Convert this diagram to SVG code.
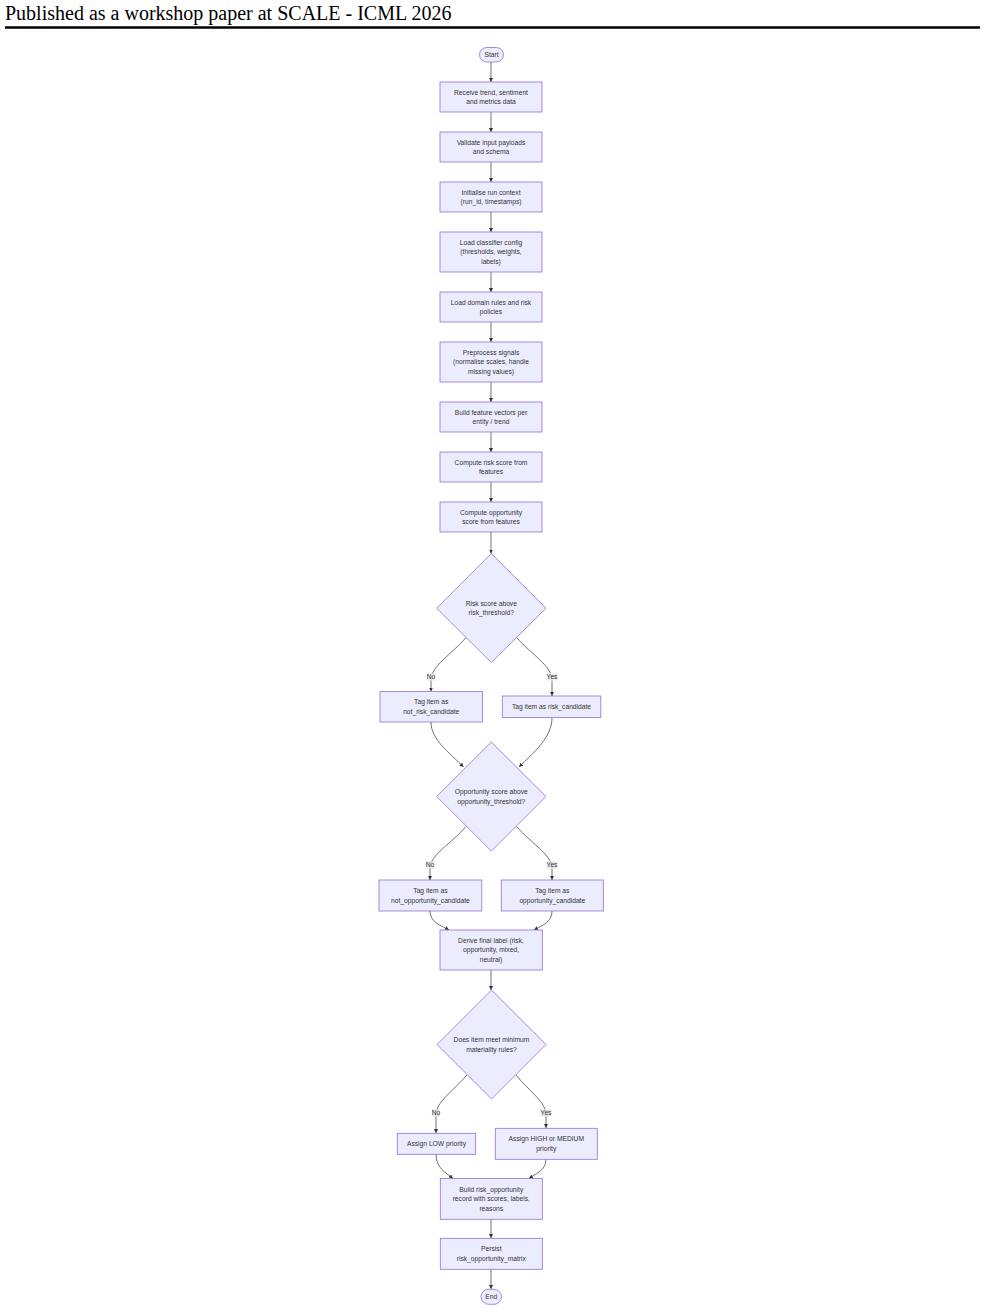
<svg xmlns="http://www.w3.org/2000/svg" width="985" height="1311" viewBox="0 0 985 1311">
<defs>
<style>
.n{fill:#ECECFF;stroke:#9370DB;stroke-width:0.8}
.t{font-family:"Trebuchet MS","Liberation Sans",Arial,sans-serif;font-size:6.7px;fill:#333;text-anchor:middle}
.e{fill:none;stroke:#333;stroke-width:0.7}
.lb{fill:#e8e8e8;opacity:0.9}
.hd{font-family:"Liberation Serif","Times New Roman",serif;font-size:20px;fill:#000}
</style>
<marker id="ah" markerUnits="userSpaceOnUse" markerWidth="4" markerHeight="4" refX="4" refY="2" orient="auto">
<path d="M0,0 L4,2 L0,4 z" fill="#333"/>
</marker>
</defs>
<rect width="985" height="1311" fill="#fff"/>
<g id="header">
<text class="hd" x="5" y="20">Published as a workshop paper at SCALE - ICML 2026</text>
<line x1="5" y1="27.5" x2="980" y2="27.5" stroke="#000" stroke-width="2.4"/>
</g>
<g id="connectors">
<path class="e" marker-end="url(#ah)" d="M491,62 L491,82"/>
<path class="e" marker-end="url(#ah)" d="M491,112 L491,132"/>
<path class="e" marker-end="url(#ah)" d="M491,162 L491,182"/>
<path class="e" marker-end="url(#ah)" d="M491,212 L491,232"/>
<path class="e" marker-end="url(#ah)" d="M491,272 L491,292"/>
<path class="e" marker-end="url(#ah)" d="M491,322 L491,342"/>
<path class="e" marker-end="url(#ah)" d="M491,382 L491,402"/>
<path class="e" marker-end="url(#ah)" d="M491,432 L491,452"/>
<path class="e" marker-end="url(#ah)" d="M491,482 L491,502"/>
<path class="e" marker-end="url(#ah)" d="M491,532 L491,553.5"/>
<path class="e" marker-end="url(#ah)" d="M466,637.5 C452,654 431,666 431,680 L431,691.5"/>
<path class="e" marker-end="url(#ah)" d="M516.5,637.5 C531,654 552,666 552,680 L552,696"/>
<path class="e" marker-end="url(#ah)" d="M431,722 C431,740 450,753 463.5,767"/>
<path class="e" marker-end="url(#ah)" d="M552,717.5 C552,738 533,753 519,767"/>
<path class="e" marker-end="url(#ah)" d="M466,826.5 C452,843 430,855 430,868 L430,880"/>
<path class="e" marker-end="url(#ah)" d="M516.5,826.5 C531,843 552,855 552,868 L552,880"/>
<path class="e" marker-end="url(#ah)" d="M430,911 C430,922 440,925 449,930"/>
<path class="e" marker-end="url(#ah)" d="M552,911 C552,922 543,925 534,930"/>
<path class="e" marker-end="url(#ah)" d="M491,970 L491,990"/>
<path class="e" marker-end="url(#ah)" d="M467,1075 C452,1092 436,1102 436,1115 L436,1133"/>
<path class="e" marker-end="url(#ah)" d="M516,1075 C530,1092 546,1102 546,1115 L546,1128"/>
<path class="e" marker-end="url(#ah)" d="M436,1154 C436,1168 445,1172 453,1178.5"/>
<path class="e" marker-end="url(#ah)" d="M546,1159 C546,1170 537,1173 529,1178.5"/>
<path class="e" marker-end="url(#ah)" d="M491,1219 L491,1238"/>
<path class="e" marker-end="url(#ah)" d="M491,1269 L491,1289"/>
<g id="edge-labels">
<rect class="lb" x="427" y="673.3" width="8" height="7.4"/><text class="t" x="431" y="679.3">No</text>
<rect class="lb" x="546.5" y="673.3" width="11" height="7.4"/><text class="t" x="552" y="679.3">Yes</text>
<rect class="lb" x="426" y="861.3" width="8" height="7.4"/><text class="t" x="430" y="867.3">No</text>
<rect class="lb" x="546.5" y="861.3" width="11" height="7.4"/><text class="t" x="552" y="867.3">Yes</text>
<rect class="lb" x="432" y="1109.3" width="8" height="7.4"/><text class="t" x="436" y="1115.3">No</text>
<rect class="lb" x="540.5" y="1109.3" width="11" height="7.4"/><text class="t" x="546" y="1115.3">Yes</text>
</g>
</g>
<g id="start"><rect class="n" x="479.5" y="47.5" width="24" height="14.5" rx="7.2"/><text class="t" x="491.5" y="57.1">Start</text></g>
<g id="receive"><rect class="n" x="440" y="82" width="102" height="30"/><text class="t" x="491" y="94.6">Receive trend, sentiment</text><text class="t" x="491" y="104.2">and metrics data</text></g>
<g id="validate"><rect class="n" x="440" y="132" width="102" height="30"/><text class="t" x="491" y="144.6">Validate input payloads</text><text class="t" x="491" y="154.2">and schema</text></g>
<g id="init"><rect class="n" x="440" y="182" width="102" height="30"/><text class="t" x="491" y="194.6">Initialise run context</text><text class="t" x="491" y="204.2">(run_id, timestamps)</text></g>
<g id="loadcfg"><rect class="n" x="440" y="232" width="102" height="40"/><text class="t" x="491" y="244.8">Load classifier config</text><text class="t" x="491" y="254.4">(thresholds, weights,</text><text class="t" x="491" y="264">labels)</text></g>
<g id="loadrules"><rect class="n" x="440" y="292" width="102" height="30"/><text class="t" x="491" y="304.6">Load domain rules and risk</text><text class="t" x="491" y="314.2">policies</text></g>
<g id="preprocess"><rect class="n" x="440" y="342" width="102" height="40"/><text class="t" x="491" y="354.8">Preprocess signals</text><text class="t" x="491" y="364.4">(normalise scales, handle</text><text class="t" x="491" y="374">missing values)</text></g>
<g id="features"><rect class="n" x="440" y="402" width="102" height="30"/><text class="t" x="491" y="414.6">Build feature vectors per</text><text class="t" x="491" y="424.2">entity / trend</text></g>
<g id="riskscore"><rect class="n" x="440" y="452" width="102" height="30"/><text class="t" x="491" y="464.6">Compute risk score from</text><text class="t" x="491" y="474.2">features</text></g>
<g id="oppscore"><rect class="n" x="440" y="502" width="102" height="30"/><text class="t" x="491" y="514.6">Compute opportunity</text><text class="t" x="491" y="524.2">score from features</text></g>
<g id="d1"><path class="n" d="M491.3,553.5 L546,608.2 L491.3,662.5 L436.7,608.2 Z"/><text class="t" x="491.3" y="605.7">Risk score above</text><text class="t" x="491.3" y="615.3">risk_threshold?</text></g>
<g id="notrisk"><rect class="n" x="380" y="691.5" width="102.5" height="30.5"/><text class="t" x="431.2" y="704.4">Tag item as</text><text class="t" x="431.2" y="714">not_risk_candidate</text></g>
<g id="riskcand"><rect class="n" x="502.3" y="696" width="98.5" height="21.5"/><text class="t" x="551.5" y="709.1">Tag item as risk_candidate</text></g>
<g id="d2"><path class="n" d="M491.3,742 L546,796.5 L491.3,851 L436.7,796.5 Z"/><text class="t" x="491.3" y="793.9">Opportunity score above</text><text class="t" x="491.3" y="803.5">opportunity_threshold?</text></g>
<g id="notopp"><rect class="n" x="379" y="880" width="102.8" height="31"/><text class="t" x="430.4" y="893.1">Tag item as</text><text class="t" x="430.4" y="902.7">not_opportunity_candidate</text></g>
<g id="oppcand"><rect class="n" x="501.3" y="880" width="102" height="31"/><text class="t" x="552.3" y="893.1">Tag item as</text><text class="t" x="552.3" y="902.7">opportunity_candidate</text></g>
<g id="derive"><rect class="n" x="440" y="930" width="102.3" height="40"/><text class="t" x="491" y="942.8">Derive final label (risk,</text><text class="t" x="491" y="952.4">opportunity, mixed,</text><text class="t" x="491" y="962">neutral)</text></g>
<g id="d3"><path class="n" d="M491.5,990 L546,1044.5 L491.5,1099 L437,1044.5 Z"/><text class="t" x="491.5" y="1042">Does item meet minimum</text><text class="t" x="491.5" y="1051.6">materiality rules?</text></g>
<g id="low"><rect class="n" x="397.3" y="1133.3" width="78.4" height="21"/><text class="t" x="436.5" y="1146.1">Assign LOW priority</text></g>
<g id="high"><rect class="n" x="495.3" y="1128.3" width="102" height="31"/><text class="t" x="546.3" y="1141.3">Assign HIGH or MEDIUM</text><text class="t" x="546.3" y="1150.9">priority</text></g>
<g id="build"><rect class="n" x="440.3" y="1178.5" width="102" height="40.8"/><text class="t" x="491.3" y="1191.5">Build risk_opportunity</text><text class="t" x="491.3" y="1201.1">record with scores, labels,</text><text class="t" x="491.3" y="1210.7">reasons</text></g>
<g id="persist"><rect class="n" x="440.3" y="1238.3" width="102" height="31"/><text class="t" x="491.3" y="1251.3">Persist</text><text class="t" x="491.3" y="1260.9">risk_opportunity_matrix</text></g>
<g id="end"><rect class="n" x="481" y="1289.3" width="20.5" height="15" rx="7.5"/><text class="t" x="491.3" y="1299.1">End</text></g>
</svg>
